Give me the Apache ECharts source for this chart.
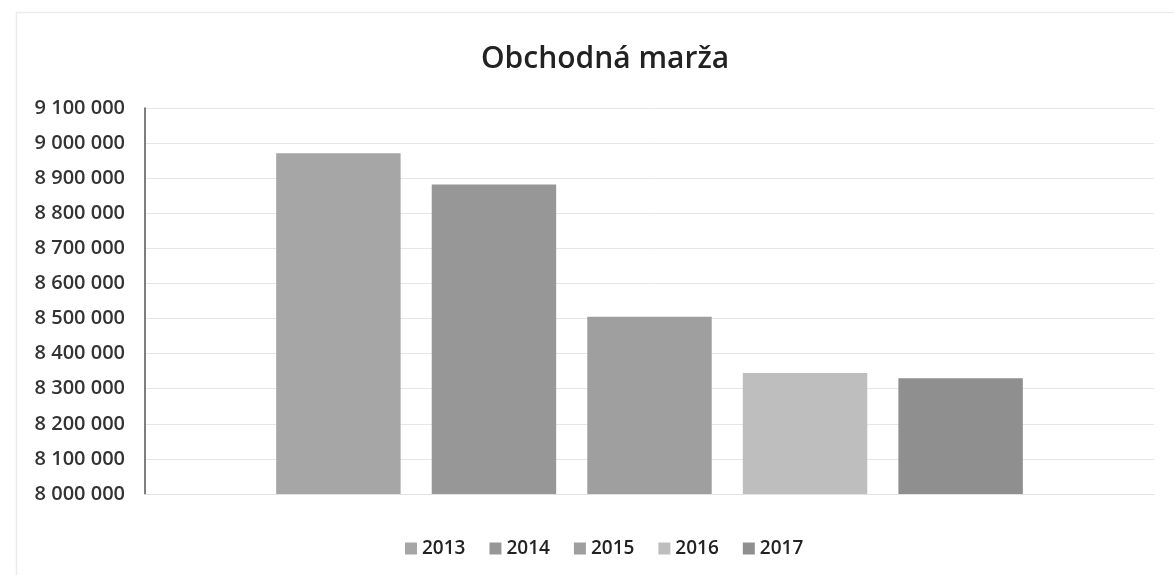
<!DOCTYPE html>
<html><head><meta charset="utf-8">
<script src="https://cdn.jsdelivr.net/npm/echarts@6/dist/echarts.min.js"></script>
<style>html,body{margin:0;padding:0;background:#fff}#c{width:1174px;height:575px}</style>
</head><body><div id="c"></div>
<script>
const title = 'Obchodná marža';
const years = ['2013', '2014', '2015', '2016', '2017'];
const values = [8971000, 8882000, 8505000, 8345000, 8330000];
const colors = ['#a6a6a6', '#979797', '#9f9f9f', '#bebebe', '#8f8f8f'];
const yMin = 8000000, yMax = 9100000, yStep = 100000;

function fmt(v) { return String(v).replace(/\B(?=(\d{3})+(?!\d))/g, ' '); }

const chart = echarts.init(document.getElementById('c'));
chart.setOption({
  animation: false,
  backgroundColor: '#fff',
  graphic: [{
    type: 'rect', silent: true, z: -1,
    shape: { x: 16.5, y: 12.5, width: 1200, height: 600 },
    style: { fill: 'none', stroke: '#ececec', lineWidth: 1.5 }
  }],
  title: {
    text: title, left: 476, top: 39,
    textStyle: { fontFamily: 'Open Sans', fontSize: 30, fontWeight: 600, color: '#222' }
  },
  legend: {
    bottom: 12, left: 400, itemWidth: 12, itemHeight: 12, itemGap: 24,
    icon: 'rect',
    textStyle: { fontFamily: 'Open Sans', fontSize: 19, fontWeight: 600, color: '#222' },
    data: years
  },
  grid: { left: 145, right: 20, top: 108, bottom: 81 },
  xAxis: {
    type: 'category', data: [''],
    axisLine: { show: true, lineStyle: { color: '#e2e2e2' } },
    axisTick: { show: false }, axisLabel: { show: false }
  },
  yAxis: {
    type: 'value', min: yMin, max: yMax, interval: yStep,
    axisLine: { show: true, lineStyle: { color: '#555', width: 1.5 } },
    axisTick: { show: false },
    splitLine: { lineStyle: { color: '#e6e6e6' } },
    axisLabel: {
      formatter: fmt, margin: 20,
      fontFamily: 'Open Sans', fontSize: 20, fontWeight: 600, color: '#333'
    }
  },
  series: years.map((y, i) => ({
    name: y, type: 'bar', data: [values[i]],
    barGap: '25%', barCategoryGap: '26%',
    itemStyle: { color: colors[i] }
  }))
});
</script></body></html>
